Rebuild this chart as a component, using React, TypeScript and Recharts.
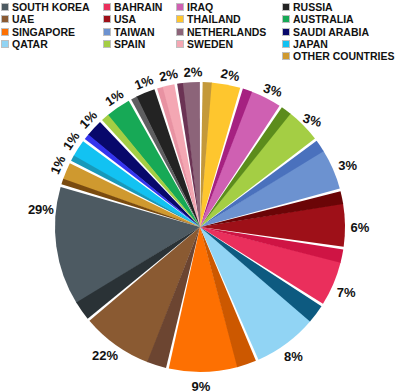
import React from "react"
import { PieChart, Pie, Sector } from "recharts"

// legend order = counter-clockwise order of the slices, starting at South Korea
const countries = [
  "SOUTH KOREA", "UAE", "SINGAPORE", "QATAR",
  "BAHRAIN", "USA", "TAIWAN", "SPAIN",
  "IRAQ", "THAILAND", "NETHERLANDS", "SWEDEN",
  "RUSSIA", "AUSTRALIA", "SAUDI ARABIA", "JAPAN", "OTHER COUNTRIES",
]

// printed percentage labels
const pctLabels = [29, 22, 9, 8, 7, 6, 3, 3, 3, 2, 2, 2, 1, 1, 1, 1, 1]

// slice sizes as drawn in the picture (not proportional to the labels)
const sliceShare = [55, 36, 35, 33, 23, 22, 21, 18, 16, 15, 9, 7, 10, 13, 9, 9, 9]

const faceColors = [
  "#4d5a62", "#8a5a32", "#fd7002", "#91d4f4",
  "#ea2f5c", "#9e1018", "#6c92d0", "#a4ce44",
  "#cf60b2", "#fec62e", "#8c6479", "#f4a7b3",
  "#232323", "#17a956", "#08086b", "#12c2f2", "#cf992f",
]

const sideColors = [
  "#2a3236", "#6c4531", "#cc5800", "#0d5a80",
  "#cf1444", "#6b0507", "#4a71bd", "#5c8c1c",
  "#a62181", "#c4993a", "#6b3354", "#e892a2",
  "#5e5e60", "#a4ce44", "#3434ee", "#1799ba", "#7a4b0f",
]

const data = countries.map((name, i) => ({
  name,
  share: sliceShare[i],
  pct: pctLabels[i],
  face: faceColors[i],
  side: sideColors[i],
}))

const legendCols = [[0, 1, 2, 3], [4, 5, 6, 7], [8, 9, 10, 11], [12, 13, 14, 15, 16]]
const legendX = [2, 104, 177, 283]

const RAD = Math.PI / 180

// width of the darker "side" strip on each slice, in degrees
const edgeOf = (span: number) => Math.max(2, Math.min(7.5, Math.abs(span) * 0.22))

function SliceShape(props: any) {
  const { cx, cy, innerRadius, outerRadius, startAngle, endAngle } = props
  const p = props.payload || props
  const edge = edgeOf(endAngle - startAngle)
  return (
    <g>
      <Sector cx={cx} cy={cy} innerRadius={innerRadius} outerRadius={outerRadius}
        startAngle={startAngle} endAngle={endAngle - edge} fill={props.face ?? p.face} />
      <Sector cx={cx} cy={cy} innerRadius={innerRadius} outerRadius={outerRadius}
        startAngle={endAngle - edge - 0.3} endAngle={endAngle} fill={props.side ?? p.side} />
    </g>
  )
}

const renderLabel = (props: any) => {
  const { cx, cy, midAngle, outerRadius, index, startAngle, endAngle } = props
  const edge = startAngle != null && endAngle != null ? edgeOf(endAngle - startAngle) : 4
  // clockwise from 12 o'clock, in -180..180, centred on the lighter face
  let theta = 90 - midAngle + edge / 2 + 1
  while (theta > 180) theta -= 360
  while (theta <= -180) theta += 360
  if (index === 0) theta += 13 // south korea's label sits higher than its slice middle
  let rot = 0
  if (theta >= -80 && theta <= 0) rot = theta
  else if (theta > 0 && theta < 55) rot = Math.min(theta, 15)
  const r = outerRadius + (rot !== 0 ? 10 : 15)
  const x = cx + r * Math.sin(theta * RAD)
  const y = cy - r * Math.cos(theta * RAD)
  return (
    <text x={x} y={y} textAnchor="middle" dominantBaseline="central"
      transform={`rotate(${rot} ${x} ${y})`}
      fontFamily="Arial, 'Liberation Sans', sans-serif" fontSize={13} fontWeight="bold" fill="#111">
      {pctLabels[index]}%
    </text>
  )
}

function ChartLegend() {
  return (
    <div style={{ position: "absolute", left: 0, top: 0, width: 400, height: 62, fontFamily: "Arial, 'Liberation Sans', sans-serif", fontSize: 10.5, fontWeight: "bold", color: "#111" }}>
      {legendCols.map((col, c) =>
        col.map((idx, row) => (
          <div key={idx} style={{ position: "absolute", left: legendX[c], top: 1 + row * 12.25, height: 12, lineHeight: "12px", display: "flex", alignItems: "center", whiteSpace: "nowrap" }}>
            <span style={{ display: "inline-block", width: 6, height: 6, background: faceColors[idx], marginRight: 4, outline: "0.5px solid rgba(0,0,0,0.25)" }} />
            {countries[idx]}
          </div>
        ))
      )}
    </div>
  )
}

export default function App() {
  return (
    <div style={{ position: "fixed", left: 0, top: 0, width: 400, height: 391, background: "#fff" }}>
      <PieChart width={400} height={391} margin={{ top: 0, right: 0, bottom: 0, left: 0 }}>
        <Pie
          data={data}
          dataKey="share"
          nameKey="name"
          cx={200}
          cy={227}
          outerRadius={145}
          startAngle={164}
          endAngle={524}
          paddingAngle={1.1}
          stroke="none"
          shape={SliceShape}
          label={renderLabel}
          labelLine={false}
          isAnimationActive={false}
        />
      </PieChart>
      <ChartLegend />
    </div>
  )
}
